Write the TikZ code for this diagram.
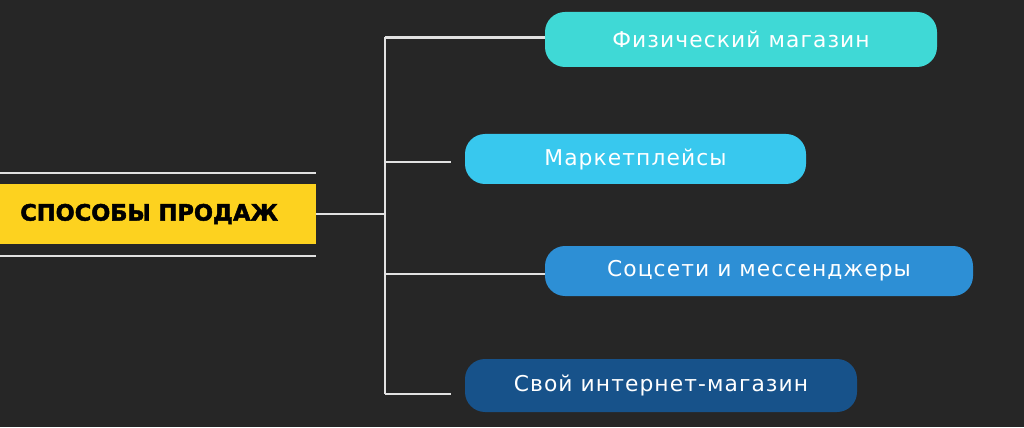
\documentclass[tikz,border=0pt]{standalone}
\usepackage{fontspec}
\setmainfont{DejaVu Sans}
\newfontfamily\boxfont[LetterSpace=5]{DejaVu Sans}
\newfontfamily\headfont[FakeBold=2]{DejaVu Sans Bold}
\usetikzlibrary{positioning,calc}
\definecolor{BgDark}{RGB}{38,38,38}
\definecolor{TitleYellow}{RGB}{253,210,31}
\definecolor{LineGray}{RGB}{225,225,225}
\definecolor{ShopTeal}{RGB}{63,217,214}
\definecolor{MarketSky}{RGB}{56,200,238}
\definecolor{SocialBlue}{RGB}{45,143,213}
\definecolor{WebNavy}{RGB}{23,82,138}
\tikzset{
  branch/.style={draw=LineGray,line width=1.6pt},
  pill/.style={rounded corners=0.5cm,inner sep=0pt,minimum height=1.25cm,
    text=white,font=\boxfont\fontsize{15.5}{18}\selectfont},
  title/.style={font=\headfont\fontsize{16}{18}\selectfont,text=black,inner sep=0pt},
}

\begin{document}
\begin{tikzpicture}
\fill[BgDark] (0,0) rectangle (25.6,10.675);
\useasboundingbox (0,0) rectangle (25.6,10.675);
% center block
\fill[TitleYellow] (0,4.575) rectangle (7.9,6.075);
\node[title,anchor=west] (head) at (0.5,5.325) {СПОСОБЫ ПРОДАЖ};
\coordinate (hr) at (7.9,5.325);
\draw[branch] (0,6.35) -- (7.9,6.35);
\draw[branch] (0,4.275) -- (7.9,4.275);
% boxes
\node[pill,fill=ShopTeal,minimum width=9.8cm,minimum height=1.375cm] (b1) at (18.525,9.6875) {Физический магазин};
\node[pill,fill=MarketSky,minimum width=8.525cm] (b2) at (15.8875,6.7) {Маркетплейсы};
\node[pill,fill=SocialBlue,minimum width=10.7cm] (b3) at (18.975,3.9) {Соцсети и мессенджеры};
\node[pill,fill=WebNavy,minimum width=9.8cm,minimum height=1.325cm] (b4) at (16.525,1.0375) {Свой интернет-магазин};
% trunk
\coordinate (k1) at (9.625,9.7375);
\coordinate (k2) at (9.625,6.625);
\coordinate (k3) at (9.625,3.825);
\coordinate (k4) at (9.625,0.825);
\coordinate (e2) at (11.275,6.625);
\coordinate (e4) at (11.275,0.825);
\draw[branch] (hr) -- (k1 |- hr);
\draw[branch] (k1) -- (k4);
\draw[branch] (k1) -- (k1 -| b1.west);
\draw[branch] (k2) -- (e2);
\draw[branch] (k3) -- (k3 -| b3.west);
\draw[branch] (k4) -- (e4);
\end{tikzpicture}
\end{document}
